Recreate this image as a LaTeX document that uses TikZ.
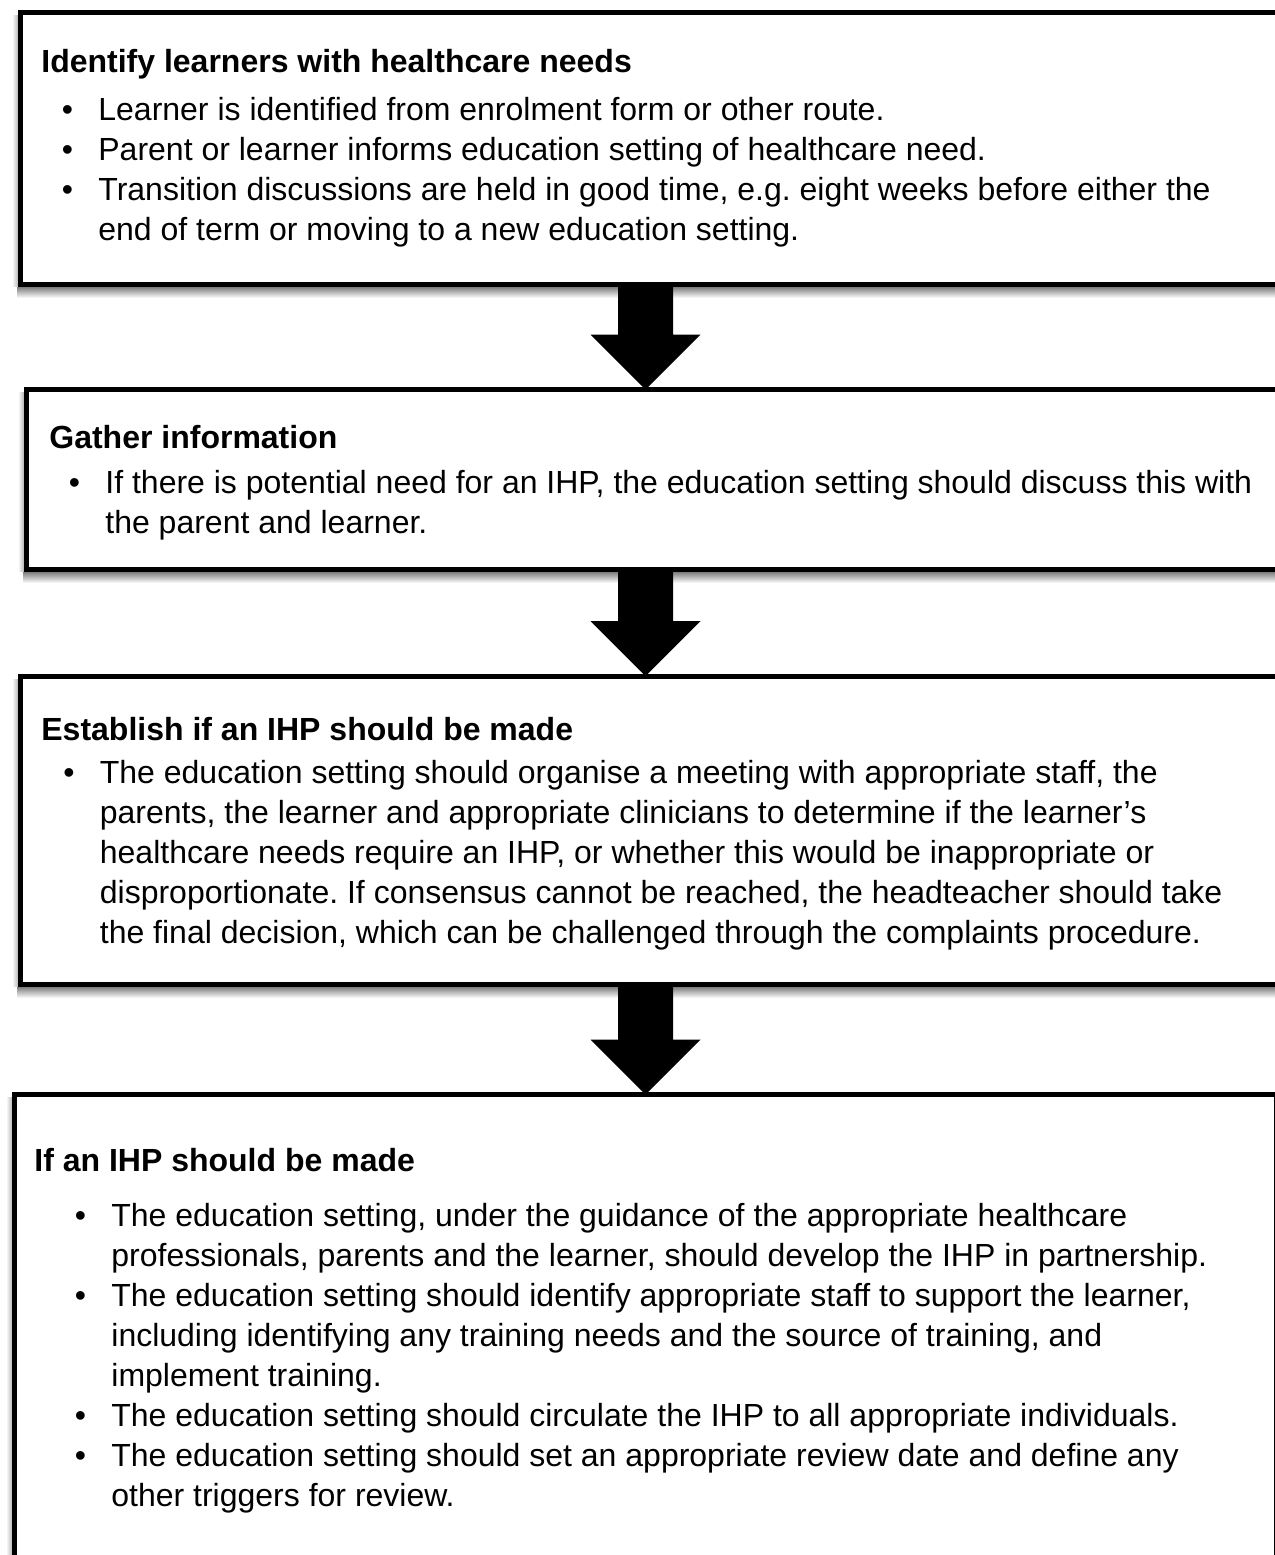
\documentclass[tikz,border=0pt]{standalone}
\usepackage{fontspec}
\setmainfont{Liberation Sans}
\usetikzlibrary{fit,calc}
\frenchspacing
\newcommand{\bitem}{\llap{\makebox[0pt][c]{•}\hspace{15.5pt}}}
\tikzset{
  box/.style={draw=black, line width=2.5pt, fill=white, inner sep=0pt, outer sep=0pt, rectangle},
  ttl/.style={anchor=base west, inner sep=0pt, font=\fontsize{16}{20}\selectfont\bfseries},
  bdy/.style={anchor=base west, inner sep=0pt, font=\fontsize{16}{20}\selectfont},
  shb/.style={top color=black!55, bottom color=white},
  shl/.style={left color=white, right color=black!30},
}
\begin{document}
\begin{tikzpicture}[x=0.5pt,y=-0.5pt]
\useasboundingbox (0,0) rectangle (1275,1555);
\clip (0,0) rectangle (1275,1555);
\fill[white] (0,0) rectangle (1275,1555);
% shadows
\shade[shb] (17,286) rectangle (1300,298);
\shade[shl] (12,15) rectangle (18.5,286);
\shade[shb] (23,571) rectangle (1300,583);
\shade[shl] (18,392) rectangle (24,571);
\shade[shb] (17,986) rectangle (1300,998);
\shade[shl] (12,679) rectangle (18.5,986);
\shade[shl] (6,1097) rectangle (12.5,1560);
% boxes
\node[box, fit={(20.5,12) (1300,284.5)}] (b1) {};
\node[box, fit={(26,389.5) (1300,569)}] (b2) {};
\node[box, fit={(20.5,676) (1300,984.5)}] (b3) {};
\node[box, fit={(14.5,1094.5) (1276.5,1600)}] (b4) {};
% arrows
\coordinate (ax) at (645.5,0);
\foreach \u/\v in {b1/b2,b2/b3,b3/b4}{
  \fill let \p1=(\u.south -| ax), \p2=(\v.north -| ax) in
    (\x1-13.75pt,\y1) -- (\x1+13.75pt,\y1) -- (\x1+13.75pt,\y2+27.5pt) -- (\x1+27.5pt,\y2+27.5pt)
    -- (\x1,\y2) -- (\x1-27.5pt,\y2+27.5pt) -- (\x1-13.75pt,\y2+27.5pt) -- cycle;
}
% box 1 text
\node[ttl] (t1) at (41,72) {Identify learners with healthcare needs};
\node[bdy] (x1) at (98,120) {\begin{tabular}[t]{@{}l@{}}
\bitem Learner is identified from enrolment form or other route.\\
\bitem Parent or learner informs education setting of healthcare need.\\
\bitem Transition discussions are held in good time, e.g. eight weeks before either the\\
end of term or moving to a new education setting.
\end{tabular}};
% box 2 text
\node[ttl] (t2) at (49,448) {Gather information};
\node[bdy] (x2) at (105,493) {\begin{tabular}[t]{@{}l@{}}
\bitem If there is potential need for an IHP, the education setting should discuss this with\\
the parent and learner.
\end{tabular}};
% box 3 text
\node[ttl] (t3) at (41,740) {Establish if an IHP should be made};
\node[bdy] (x3) at (99.5,783) {\begin{tabular}[t]{@{}l@{}}
\bitem The education setting should organise a meeting with appropriate staff, the\\
parents, the learner and appropriate clinicians to determine if the learner’s\\
healthcare needs require an IHP, or whether this would be inappropriate or\\
disproportionate. If consensus cannot be reached, the headteacher should take\\
the final decision, which can be challenged through the complaints procedure.
\end{tabular}};
% box 4 text
\node[ttl] (t4) at (34,1171) {If an IHP should be made};
\node[bdy] (x4) at (111,1226) {\begin{tabular}[t]{@{}l@{}}
\bitem The education setting, under the guidance of the appropriate healthcare\\
professionals, parents and the learner, should develop the IHP in partnership.\\
\bitem The education setting should identify appropriate staff to support the learner,\\
including identifying any training needs and the source of training, and\\
implement training.\\
\bitem The education setting should circulate the IHP to all appropriate individuals.\\
\bitem The education setting should set an appropriate review date and define any\\
other triggers for review.
\end{tabular}};
\end{tikzpicture}
\end{document}
